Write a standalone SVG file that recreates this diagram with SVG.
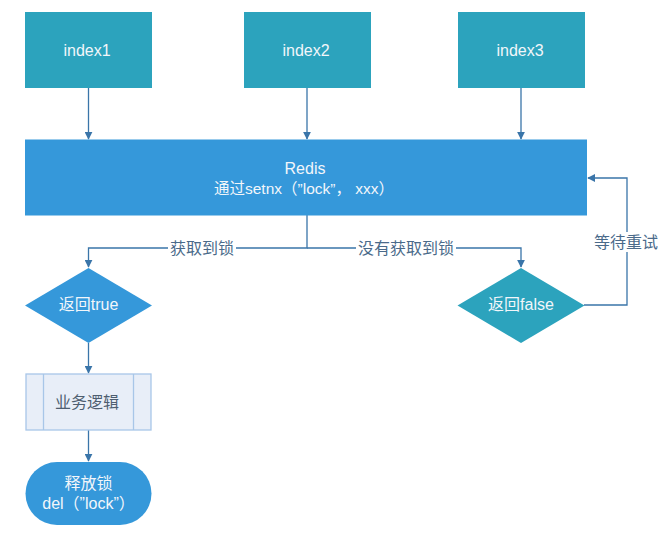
<svg xmlns="http://www.w3.org/2000/svg" width="665" height="536" viewBox="0 0 665 536">
<style>
text{font-family:"Liberation Sans","Noto Sans CJK SC",sans-serif;font-size:16px;text-anchor:middle;dominant-baseline:central}
.w{fill:#f2f6fa}
.teal{fill:#2ca3bd}
.blue{fill:#3598da}
.ln{fill:none;stroke:#3a75a9;stroke-width:1.3}
.lbl{fill:#4a6a8a}
</style>
<defs>
<marker id="ah" viewBox="0 0 10 10" refX="9" refY="5" markerWidth="8" markerHeight="8" markerUnits="userSpaceOnUse" orient="auto">
<path d="M0,0 L10,5 L0,10 z" fill="#3a75a9"/>
</marker>
</defs>
<rect width="665" height="536" fill="#ffffff"/>
<g id="connectors">
<line class="ln" x1="88.5" y1="88" x2="88.5" y2="139" marker-end="url(#ah)"/>
<line class="ln" x1="307" y1="88" x2="307" y2="139" marker-end="url(#ah)"/>
<line class="ln" x1="521" y1="88" x2="521" y2="139" marker-end="url(#ah)"/>
<polyline class="ln" points="307,215 307,248 88.5,248 88.5,267" marker-end="url(#ah)"/>
<polyline class="ln" points="307,248 521,248 521,267" marker-end="url(#ah)"/>
<polyline class="ln" points="584,305 627,305 627,178 588,178" marker-end="url(#ah)"/>
<line class="ln" x1="88.5" y1="343" x2="88.5" y2="373" marker-end="url(#ah)"/>
<line class="ln" x1="88.5" y1="430" x2="88.5" y2="461" marker-end="url(#ah)"/>
<rect x="168" y="239" width="68" height="18" fill="#ffffff"/>
<text class="lbl" x="202" y="248">获取到锁</text>
<rect x="356" y="239" width="100" height="18" fill="#ffffff"/>
<text class="lbl" x="406" y="248">没有获取到锁</text>
<rect x="592" y="232" width="68" height="20" fill="#ffffff"/>
<text class="lbl" x="626" y="242">等待重试</text>
</g>
<g id="index1">
<rect class="teal" x="25" y="12" width="127" height="76"/>
<text class="w" x="87" y="50">index1</text>
</g>
<g id="index2">
<rect class="teal" x="244" y="12" width="127" height="76"/>
<text class="w" x="306" y="50">index2</text>
</g>
<g id="index3">
<rect class="teal" x="458" y="12" width="127" height="76"/>
<text class="w" x="520" y="50">index3</text>
</g>
<g id="redis">
<rect class="blue" x="25" y="139.5" width="562" height="76"/>
<text class="w" x="305" y="168">Redis</text>
<text class="w" x="304" y="188" style="font-size:15.5px">通过setnx（”lock”， xxx）</text>
</g>
<g id="return-true">
<polygon class="blue" points="88.5,268 152,305.5 88.5,343 25,305.5"/>
<text class="w" x="88.5" y="304">返回true</text>
</g>
<g id="return-false">
<polygon class="teal" points="521,268 584.5,305.5 521,343 457.5,305.5"/>
<text class="w" x="521" y="304">返回false</text>
</g>
<g id="business">
<rect x="26" y="374" width="125" height="56" fill="#e8eef8" stroke="#a8c6e8" stroke-width="1.3"/>
<line x1="43.5" y1="374" x2="43.5" y2="430" stroke="#a8c6e8" stroke-width="1.3"/>
<line x1="133.5" y1="374" x2="133.5" y2="430" stroke="#a8c6e8" stroke-width="1.3"/>
<text x="87" y="402.5" fill="#4e5e70">业务逻辑</text>
</g>
<g id="release">
<rect class="blue" x="25.5" y="462" width="126" height="63" rx="31.5" ry="31.5"/>
<text class="w" x="88.5" y="483">释放锁</text>
<text class="w" x="88.5" y="503">del（”lock”）</text>
</g>
</svg>
